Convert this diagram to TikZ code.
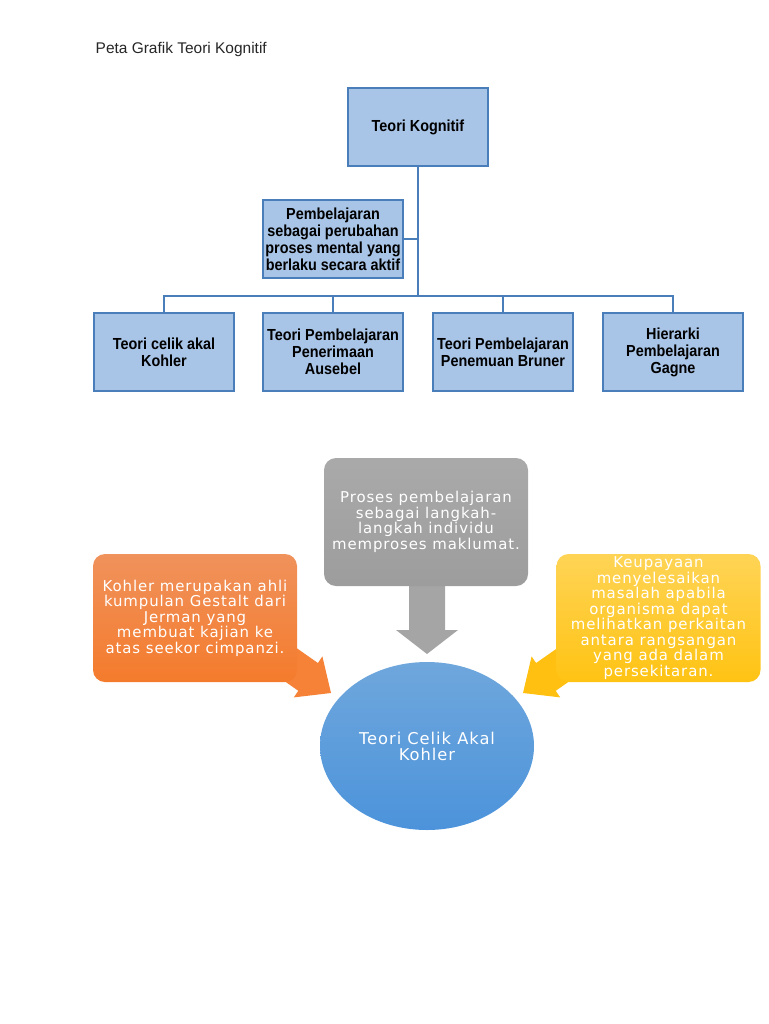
\documentclass[tikz,border=0pt]{standalone}
\usepackage{fontspec}
\setmainfont{Liberation Sans}
\newfontfamily\orgfont[FakeStretch=0.9]{Liberation Sans}
\newfontfamily\bubblefont[LetterSpace=6]{DejaVu Sans}
\usepackage{tikz}
\usetikzlibrary{positioning,shapes.geometric}

\definecolor{orgfill}{HTML}{A8C4E6}
\definecolor{orgline}{HTML}{4A7EBB}
\definecolor{grayfill}{HTML}{A5A5A5}
\definecolor{orangetop}{HTML}{F0925C}
\definecolor{orangebot}{HTML}{F47B2C}
\definecolor{yellowtop}{HTML}{FFD456}
\definecolor{yellowbot}{HTML}{FFC313}
\definecolor{bluetop}{HTML}{6FA7DC}
\definecolor{bluebot}{HTML}{4C93DB}

\begin{document}
\begin{tikzpicture}[x=0.75pt,y=-0.75pt,
        orgbox/.style = {draw=orgline, line width=0.8pt, fill=orgfill,
            minimum width=105pt, minimum height=58.5pt, inner sep=1pt,
            align=center, font=\orgfont\bfseries\fontsize{12}{12.8}\selectfont},
        link/.style = {draw=orgline, line width=0.9pt},
        bubble/.style = {rounded corners=9pt, minimum width=153pt,
            minimum height=96pt, inner sep=1pt, align=center, text=white,
            font=\bubblefont\fontsize{11.2}{11.6}\selectfont}]

        \useasboundingbox (0,0) rectangle (768,1024);

        % Title
        \node[anchor=west, font=\fontsize{11.6}{13}\selectfont, text=black!85] (title) at (91,50) {Peta Grafik Teori Kognitif};

        % Hierarchy
        \node[orgbox] (kognitif) at (418,127) {Teori Kognitif};
        \node[orgbox] (mental) at (333,239) {Pembelajaran\\sebagai perubahan\\proses mental yang\\berlaku secara aktif};
        \node[orgbox] (celik) at (164,352) {Teori celik akal\\Kohler};
        \node[orgbox] (ausubel) at (333,352) {Teori Pembelajaran\\Penerimaan\\Ausebel};
        \node[orgbox] (bruner) at (503,352) {Teori Pembelajaran\\Penemuan Bruner};
        \node[orgbox] (gagne) at (673,352) {Hierarki\\Pembelajaran\\Gagne};

        % Connectors
        \coordinate (bus) at (418,296);
        \draw[link] (kognitif.south) -- (bus);
        \draw[link] (mental.east) -- (mental.east -| bus);
        \foreach \n in {celik,ausubel,bruner,gagne}
            \draw[link] (bus) -| (\n.north);

        % Block arrows
        \fill[grayfill] (409,580) -- (409,630) -- (396,630) -- (427,654) -- (458,630) -- (445,630) -- (445,580) -- cycle;
        \fill[orangebot!95!white] (276.9,634.3) -- (317.9,663.0) -- (322.4,656.4) -- (331,693) -- (293.8,697.4) -- (298.3,690.8) -- (257.3,662.1) -- cycle;
        \fill[yellowbot!95!orange] (577.1,634.3) -- (536.1,663.0) -- (531.6,656.4) -- (523,693) -- (560.2,697.4) -- (555.7,690.8) -- (596.7,662.1) -- cycle;

        % Bubbles
        \node[bubble, top color=grayfill!95!white, bottom color=grayfill!95!black] (langkah) at (426,522) {Proses pembelajaran\\sebagai langkah-\\langkah individu\\memproses maklumat.};
        \node[bubble, top color=orangetop, bottom color=orangebot] (gestalt) at (195,618) {Kohler merupakan ahli\\kumpulan Gestalt dari\\Jerman yang\\membuat kajian ke\\atas seekor cimpanzi.};
        \node[bubble, top color=yellowtop, bottom color=yellowbot] (keupayaan) at (658.5,618) {Keupayaan\\menyelesaikan\\masalah apabila\\organisma dapat\\melihatkan perkaitan\\antara rangsangan\\yang ada dalam\\persekitaran.};

        % Centre
        \node[ellipse, top color=bluetop, bottom color=bluebot, minimum width=160.5pt, minimum height=126pt,
            align=center, text=white, font=\bubblefont\fontsize{12.2}{12}\selectfont] (kohler) at (427,746) {Teori Celik Akal\\Kohler};

    \end{tikzpicture}
\end{document}
